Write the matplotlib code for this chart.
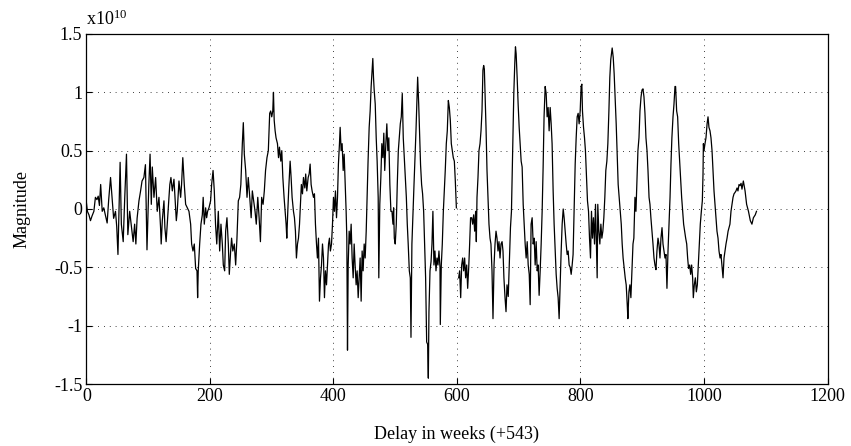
import numpy as np
import matplotlib
matplotlib.use('Agg')
import matplotlib.pyplot as plt

# Data (magnitude in units of 1e10)
weeks = [
    0, 1.5, 4, 6.5, 9, 12, 14.5, 17, 19, 21, 23, 25.5, 28, 31, 33.5, 36, 39, 41.5, 44, 47,
    49, 51, 53, 54.5, 56.5, 59.5, 62, 64.8, 67, 70, 73, 75.6, 78, 80, 82, 85, 87.5, 90, 93, 95.5,
    98, 101, 103, 105,
    106.6, 109.3, 112, 114.6, 117.4, 120, 121, 122.8, 125.5, 127, 129, 131.4, 133.6, 135, 136.8, 139,
    141.7, 143.3, 145.5, 147, 149.8, 152.5, 154, 156, 158.4, 160.6, 163.3, 166, 168.7, 170.3, 172.5, 174.6,
    176.8, 179, 180, 181, 183.3, 185.4, 187.6, 189, 190.8, 193, 194.6, 196.2, 198.4, 201, 202.7, 205,
    207, 209, 211, 213.5, 215.7, 217.8, 220, 221.6, 223.8, 225.4, 227.5, 229.7, 231.3, 233.5, 235, 237,
    239.4, 241.6, 243.7, 245.9, 248, 250, 252.4, 254, 255.6, 257.8, 260, 262, 264, 266.7, 268.6, 270.8,
    273, 275, 277.4, 279.6, 281.7, 283.7, 286, 288, 290, 292.3, 294.5, 296.7, 298.3,
    300, 301.7, 302.8, 304, 305.5, 307, 309.3, 311, 312.5, 314.7, 316.3, 318, 320, 321.7, 323.3, 324.4,
    326, 327.6, 329.8, 331.4, 333, 335.2, 336.8, 338.4, 340, 341.7, 343.3, 345, 346.5, 348, 349.8, 351.4,
    353.6, 355, 356.8, 359, 360.6, 362.2, 363.8, 365.4, 367.6, 369.2, 370.8, 372.5, 374, 375.7, 377.3, 379,
    380.6, 382.2, 383.8, 385.4, 387, 388.7, 390.3, 392, 393.5, 395, 396.8, 398.4, 400, 401.6, 403.2, 404.9,
    406.5, 408, 409.7, 410.8, 412.4, 414, 415.7, 417.3, 419, 420.5, 421.6, 422.7, 423.8, 425.4, 427, 428.6,
    430.2, 431.9, 433.5, 435, 436.7, 438.3, 440, 441.6, 443.2, 444.8, 446.4, 448, 449.7, 451.3, 453, 454.5,
    456, 457.8, 459.4, 461, 462.6, 463.7, 464.8, 465.9, 467.6, 469.2, 470.7, 472.4, 473.4, 475, 476.7, 478.3,
    480, 481.5, 483, 484.8, 486.4, 488, 489.6, 491.3, 493, 494.7,
    496.3, 497.4, 498.5, 500, 501.7, 503.3, 505, 506.6, 508.2, 509.8, 511.4, 513, 514.7, 516.3, 518, 519.5,
    521, 522.8, 524.4, 525.5, 527, 528.8, 530.4, 532, 533.6, 535.2, 536.3, 538, 539.5, 541, 542.7, 544.3,
    546, 547.6, 549.2, 550.9, 552.5, 553.6, 554.6, 556.3, 558, 559.5, 561, 562.7, 564.3, 566, 567.6, 569.2,
    570.8, 572.5, 573, 574.6, 576.2, 577.9, 579.5, 581, 582.7, 584.3, 586, 587.6, 589.2, 590.8, 592.4, 594,
    595.7, 597.3, 599, 601,
    602.7, 604.3, 606, 607.6, 609.2, 610.8, 612.4, 614, 615.7, 617.3, 619, 620.5, 622, 623.8, 625.4, 627,
    628.6, 630.2, 631.3, 632.4, 634, 635.6, 637.3, 638.9, 640.5, 642, 643.2, 644.3, 645.4, 647, 648.6, 650.2,
    651.8, 653.5, 655, 656.7, 658.3, 660, 661.6, 663.2, 664.8, 666.4, 668, 669.7, 671.3, 673, 674.5, 676,
    677.8, 679.4, 681, 683, 684.5,
    686.6, 688.2, 689.3, 690.4, 692, 693.6, 694.7, 695.8, 697.4, 699, 700.7, 702.3, 703.9, 705.5, 707.2, 708.8,
    710.4, 712, 713.7, 715.3, 717, 718.5, 720, 721.7, 723.4, 725, 726.6, 728.2, 729.9, 731.4, 733, 734.7,
    736.3, 737.9, 739.5, 741, 742.8, 744.4, 746, 747.6, 749.2, 750.9, 752.5, 754, 755.7, 757.3, 759, 760.6,
    762.2, 763.8, 765.4, 767, 768.7, 770.3, 772, 773.5, 775.2, 776.8, 778.4, 780, 781.6, 783.3, 784.9, 786.5,
    788, 789.7, 791.4, 793, 794.6, 796.2, 797.8, 799.5, 801, 802.2, 803.2, 804.9, 806.5, 808, 809.7, 811.3,
    813, 814.6, 816.2, 817.8, 819.4, 821, 822.7, 824.3, 826, 827, 828, 829.7, 831.3, 833, 834.6, 836.2,
    837.8, 839.4, 841, 842.7, 844.3, 846, 847.5, 849, 851.3, 853, 854.5, 856, 857.8, 859.4, 861, 862.6,
    864.3, 866, 867.5, 869, 870.8, 872.4, 874, 875.7, 876.7, 878.4, 880, 881.6, 883.3, 885, 886.4,
    888.2, 889.8, 891.5, 893, 894.7, 896.3, 898, 899.6, 901.2, 902.8, 904.4, 906, 907.7, 909.3, 911, 912.5,
    914, 915.8, 917.4, 919, 920.6, 922.2, 923.8, 925.5, 927, 928.7, 930.3, 932, 933.6, 935.2, 936.8, 938.4,
    940, 941.7, 943.3, 945, 946.5, 948, 949.8, 951.4, 953, 954, 955.7, 957.3, 959, 960.6, 962.2, 963.8,
    965.4, 967, 968.7, 970.3, 972, 973.5, 975, 976.8, 978.4, 980, 981.6, 982.7, 984.3, 986, 987.6, 989.2,
    990.8, 992.4, 994, 995.7, 997.3, 998.4, 999, 1000, 1001.6, 1003.2, 1005, 1006.5, 1008, 1009.7, 1011.3, 1013,
    1014.6, 1016.2, 1017.8, 1019.4, 1021, 1022.7, 1024.3, 1026, 1027.5, 1029, 1030.8, 1032.4, 1034, 1035.6, 1037.3, 1039,
    1040.5, 1042, 1043.7, 1045.4, 1047, 1048.6, 1050, 1051.8, 1053.5, 1055, 1056.7,
    1058.3, 1060, 1061.5, 1063.7, 1066.5, 1069, 1072, 1075, 1077.6, 1080, 1083, 1085,
]

magnitude = [
    0.05, -0.02, -0.05, -0.10, -0.06, -0.02, 0.10, 0.08, 0.11, 0.03, 0.21, -0.02, 0.01, -0.06, -0.12, 0.08, 0.27, 0.10, -0.08, -0.02,
    -0.15, -0.39, 0.05, 0.40, -0.13, -0.28, 0.10, 0.47, -0.22, -0.02, -0.16, -0.28, -0.13, -0.30, -0.08, 0.07, 0.15, 0.24, 0.27, 0.38,
    -0.35, 0.21, 0.47, 0.04,
    0.36, 0.10, 0.27, -0.02, 0.10, -0.16, -0.30, -0.10, 0.07, -0.16, -0.28, -0.075, 0.10, 0.21, 0.27, 0.155,
    0.255, 0.10, -0.10, -0.02, 0.24, 0.10, 0.21, 0.44, 0.21, 0.04, 0.01, -0.02, -0.13, -0.30, -0.36, -0.30,
    -0.51, -0.53, -0.76, -0.53, -0.30, -0.13, -0.05, 0.10, -0.13, 0.01, -0.075, -0.02, 0.01, 0.07, 0.21, 0.33,
    0.155, -0.13, -0.30, -0.02, -0.36, -0.13, -0.30, -0.48, -0.53, -0.19, -0.075, -0.30, -0.56, -0.36, -0.25, -0.36,
    -0.30, -0.48, -0.25, 0.07, 0.10, 0.21, 0.56, 0.74, 0.47, 0.33, 0.10, 0.27, 0.13, -0.075, 0.155, 0.07,
    -0.02, -0.13, 0.10, -0.075, -0.28, 0.10, 0.04, 0.155, 0.33, 0.44, 0.50, 0.82, 0.84,
    0.79, 0.84, 1.0, 0.76, 0.67, 0.61, 0.56, 0.44, 0.53, 0.41, 0.50, 0.27, 0.10, -0.02, -0.13, -0.25,
    -0.02, 0.18, 0.41, 0.27, 0.10, -0.02, -0.075, -0.19, -0.42, -0.30, -0.25, -0.13, 0.04, 0.21, 0.13, 0.27,
    0.18, 0.30, 0.155, 0.27, 0.30, 0.385, 0.21, 0.155, 0.10, 0.13, -0.13, -0.30, -0.42, -0.25, -0.79, -0.59,
    -0.48, -0.30, -0.42, -0.76, -0.53, -0.65, -0.48, -0.30, -0.25, -0.36, -0.30, -0.13, 0.10, -0.02, 0.155, -0.075,
    0.10, 0.385, 0.56, 0.70, 0.50, 0.56, 0.33, 0.47, 0.21, -0.02, -0.25, -1.21, -0.48, -0.19, -0.30, -0.13,
    -0.42, -0.59, -0.30, -0.48, -0.65, -0.53, -0.76, -0.59, -0.42, -0.79, -0.36, -0.53, -0.30, -0.42, -0.19, 0.10,
    0.41, 0.70, 0.84, 1.05, 1.19, 1.29, 1.13, 1.02, 0.90, 0.61, 0.41, 0.10, -0.59, 0.04, 0.27, 0.56,
    0.44, 0.65, 0.33, 0.56, 0.73, 0.50, 0.61, 0.21, -0.02, -0.02,
    -0.13, 0.01, -0.25, -0.30, -0.13, 0.21, 0.50, 0.61, 0.73, 0.79, 0.99, 0.61, 0.44, 0.27, 0.10, -0.13,
    -0.30, -0.53, -0.59, -1.10, -0.30, -0.02, 0.21, 0.44, 0.67, 0.93, 1.13, 0.90, 0.64, 0.38, 0.21, 0.13,
    -0.02, -0.30, -0.59, -1.14, -1.16, -1.45, -0.88, -0.53, -0.45, -0.30, -0.02, -0.48, -0.36, -0.53, -0.42, -0.48,
    -0.36, -0.50, -0.99, -0.48, -0.30, -0.02, 0.155, 0.33, 0.56, 0.67, 0.93, 0.87, 0.76, 0.56, 0.50, 0.44,
    0.41, 0.24, 0.01, np.nan,
    -0.59, -0.53, -0.76, -0.48, -0.42, -0.53, -0.42, -0.59, -0.48, -0.68, -0.50, -0.30, -0.075, -0.075, -0.13, -0.05,
    -0.19, -0.02, -0.28, 0.10, 0.27, 0.50, 0.56, 0.67, 0.84, 1.19, 1.23, 1.20, 0.99, 0.70, 0.33, 0.10,
    -0.13, -0.25, -0.30, -0.53, -0.94, -0.48, -0.30, -0.19, -0.25, -0.36, -0.28, -0.42, -0.30, -0.28, -0.36, -0.59,
    -0.76, -0.88, -0.65, -0.75, -0.50,
    -0.16, -0.02, 0.27, 0.56, 0.99, 1.25, 1.39, 1.33, 1.13, 0.90, 0.70, 0.56, 0.41, 0.36, 0.04, -0.13,
    -0.30, -0.42, -0.28, -0.48, -0.56, -0.82, -0.13, -0.075, -0.30, -0.25, -0.48, -0.28, -0.53, -0.48, -0.74, -0.53,
    -0.30, -0.02, 0.36, 0.79, 1.05, 0.99, 0.79, 0.87, 0.67, 0.87, 0.73, 0.56, 0.155, -0.13, -0.36, -0.56,
    -0.68, -0.76, -0.94, -0.65, -0.36, -0.13, 0.0, -0.075, -0.19, -0.30, -0.39, -0.36, -0.48, -0.50, -0.56, -0.48,
    -0.39, -0.02, 0.385, 0.61, 0.79, 0.82, 0.73, 0.84, 1.05, 1.07, 0.84, 0.70, 0.61, 0.50, 0.27, 0.07,
    -0.02, -0.25, -0.42, -0.02, -0.25, -0.075, -0.30, 0.04, -0.36, -0.59, 0.04, -0.19, -0.30, -0.13, -0.25, -0.19,
    -0.075, 0.10, 0.33, 0.41, 0.56, 0.84, 1.13, 1.28, 1.38, 1.30, 1.16, 0.96, 0.73, 0.47, 0.21, 0.10,
    -0.02, -0.13, -0.30, -0.42, -0.51, -0.59, -0.65, -0.82, -0.94, -0.71, -0.65, -0.76, -0.53, -0.30, -0.25,
    0.10, -0.02, 0.27, 0.50, 0.61, 0.84, 0.96, 1.02, 1.03, 0.96, 0.82, 0.61, 0.50, 0.33, 0.10, 0.04,
    -0.075, -0.19, -0.30, -0.42, -0.48, -0.52, -0.36, -0.25, -0.30, -0.42, -0.25, -0.16, -0.30, -0.36, -0.42, -0.39,
    -0.68, -0.36, -0.13, 0.10, 0.385, 0.61, 0.79, 0.90, 1.05, 1.05, 0.84, 0.79, 0.56, 0.41, 0.27, 0.10,
    -0.02, -0.13, -0.19, -0.25, -0.30, -0.42, -0.51, -0.48, -0.56, -0.48, -0.59, -0.76, -0.65, -0.59, -0.71, -0.65,
    -0.48, -0.30, -0.13, -0.02, 0.07, 0.30, 0.56, 0.50, 0.56, 0.61, 0.73, 0.79, 0.70, 0.67, 0.61, 0.50,
    0.33, 0.155, 0.04, -0.075, -0.19, -0.25, -0.36, -0.42, -0.39, -0.48, -0.59, -0.42, -0.36, -0.30, -0.25, -0.19,
    -0.16, -0.13, -0.02, 0.04, 0.10, 0.13, 0.14, 0.155, 0.18, 0.155, 0.21,
    0.20, 0.22, 0.17, 0.24, 0.155, 0.04, -0.02, -0.10, -0.13, -0.075, -0.05, -0.02,
]

x_ticks = [0, 200, 400, 600, 800, 1000, 1200]
y_ticks = [-1.5, -1, -0.5, 0, 0.5, 1, 1.5]
y_tick_labels = ['-1.5', '-1', '-0.5', '0', '0.5', '1', '1.5']

plt.rcParams['font.family'] = ['Liberation Serif', 'DejaVu Serif']
plt.rcParams['mathtext.fontset'] = 'custom'
plt.rcParams['mathtext.rm'] = 'Liberation Serif'
plt.rcParams['mathtext.default'] = 'regular'
plt.rcParams['font.size'] = 13

fig = plt.figure(figsize=(8.51, 4.46), dpi=100)
ax = fig.add_axes([0.1016, 0.139, 0.8708, 0.7848])

ax.plot(weeks, magnitude, color='black', linewidth=0.9)

ax.set_xlim(0, 1200)
ax.set_ylim(-1.5, 1.5)
ax.set_xticks(x_ticks)
ax.set_yticks(y_ticks)
ax.set_yticklabels(y_tick_labels)
ax.tick_params(direction='in', length=4, width=0.8, pad=3)
ax.grid(True, color='black', linestyle=(0, (1, 6)), linewidth=0.6)
for s in ax.spines.values():
    s.set_linewidth(0.9)

ax.set_xlabel('Delay in weeks (+543)', labelpad=15)
ax.set_ylabel('Magnitude', labelpad=17)
ax.text(0, 1.015, 'x10$^{10}$', transform=ax.transAxes, ha='left', va='bottom')

fig.savefig('out.png', dpi=100)
